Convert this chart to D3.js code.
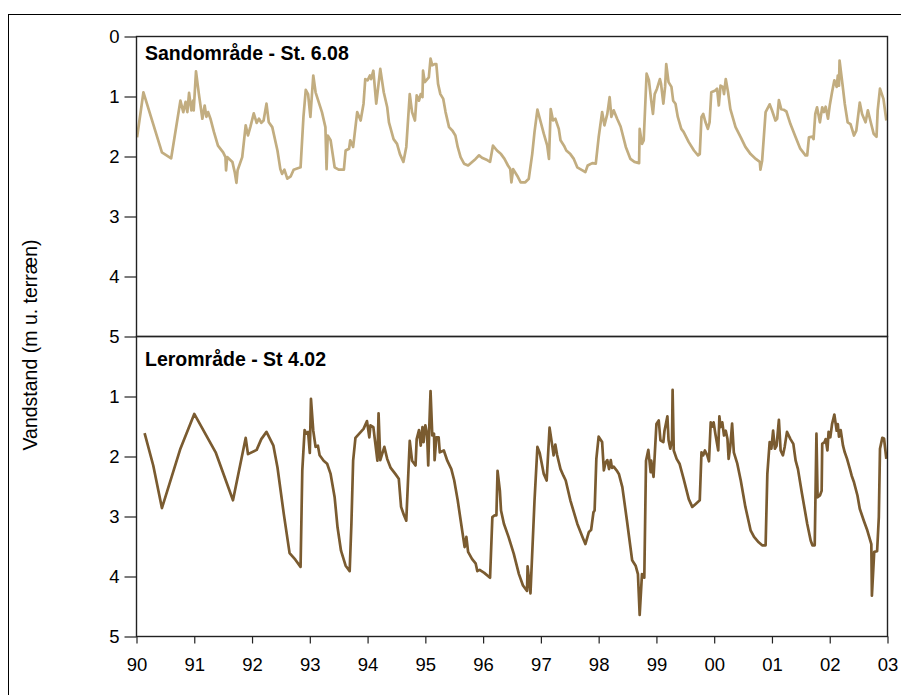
<!DOCTYPE html>
<html><head><meta charset="utf-8">
<script src="https://cdn.jsdelivr.net/npm/d3@7"></script>
<style>
html,body{margin:0;padding:0;background:#fff;}
svg{display:block;font-family:"Liberation Sans",Arial,sans-serif;}
</style></head>
<body>
<svg id="c" width="901" height="695"></svg>
<script>
const xTickLabels = ["90","91","92","93","94","95","96","97","98","99","00","01","02","03"];
const xTickYears = [1990,1991,1992,1993,1994,1995,1996,1997,1998,1999,2000,2001,2002,2003];
const topYTicks = [0,1,2,3,4,5];
const bottomYTicks = [1,2,3,4,5];
const titles = ["Sandområde - St. 6.08", "Lerområde - St 4.02"];
const yAxisTitle = "Vandstand (m u. terræn)";

// Sandområde - St. 6.08
const sandT = [1990.01,1990.12,1990.44,1990.60,1990.76,1990.81,1990.85,1990.88,1990.91,1990.95,1990.98,1990.99,1991.03,1991.08,1991.14,1991.18,1991.21,1991.24,1991.28,1991.34,1991.41,1991.50,1991.54,1991.55,1991.57,1991.66,1991.70,1991.73,1991.75,1991.83,1991.89,1991.93,1991.97,1992.03,1992.08,1992.12,1992.16,1992.20,1992.25,1992.29,1992.35,1992.44,1992.49,1992.52,1992.56,1992.61,1992.67,1992.72,1992.84,1992.89,1992.93,1992.97,1993.01,1993.06,1993.10,1993.21,1993.27,1993.29,1993.31,1993.36,1993.43,1993.50,1993.59,1993.62,1993.68,1993.70,1993.75,1993.79,1993.82,1993.88,1993.93,1993.96,1994.00,1994.04,1994.06,1994.10,1994.15,1994.19,1994.22,1994.28,1994.34,1994.37,1994.45,1994.51,1994.56,1994.62,1994.67,1994.73,1994.77,1994.82,1994.85,1994.89,1994.92,1994.95,1994.96,1994.99,1995.06,1995.09,1995.12,1995.16,1995.19,1995.22,1995.26,1995.31,1995.35,1995.41,1995.47,1995.52,1995.56,1995.61,1995.67,1995.74,1995.81,1995.87,1995.93,1995.98,1996.07,1996.12,1996.17,1996.24,1996.31,1996.37,1996.43,1996.47,1996.49,1996.52,1996.59,1996.65,1996.73,1996.79,1996.85,1996.89,1996.94,1996.99,1997.05,1997.11,1997.14,1997.17,1997.21,1997.25,1997.31,1997.34,1997.40,1997.44,1997.51,1997.57,1997.63,1997.72,1997.77,1997.81,1997.89,1997.95,1998.00,1998.06,1998.10,1998.15,1998.19,1998.22,1998.26,1998.32,1998.38,1998.47,1998.55,1998.62,1998.70,1998.71,1998.75,1998.78,1998.83,1998.87,1998.91,1998.94,1998.97,1999.01,1999.06,1999.08,1999.12,1999.15,1999.17,1999.21,1999.26,1999.29,1999.33,1999.37,1999.43,1999.47,1999.56,1999.65,1999.72,1999.75,1999.78,1999.81,1999.85,1999.89,1999.92,1999.95,2000.02,2000.05,2000.08,2000.11,2000.15,2000.17,2000.20,2000.24,2000.28,2000.37,2000.46,2000.54,2000.63,2000.72,2000.79,2000.80,2000.83,2000.89,2000.96,2001.00,2001.06,2001.09,2001.12,2001.16,2001.20,2001.25,2001.32,2001.41,2001.49,2001.58,2001.61,2001.64,2001.70,2001.72,2001.75,2001.78,2001.83,2001.87,2001.90,2001.93,2001.97,2002.00,2002.04,2002.08,2002.12,2002.14,2002.16,2002.17,2002.22,2002.26,2002.31,2002.36,2002.42,2002.46,2002.52,2002.56,2002.62,2002.66,2002.71,2002.76,2002.81,2002.83,2002.87,2002.93,2002.98];
const sandV = [1.68,0.93,1.93,2.03,1.07,1.26,1.09,1.26,0.94,1.23,1.07,1.23,0.58,0.96,1.37,1.15,1.34,1.26,1.37,1.59,1.82,1.93,2.01,2.23,2.01,2.09,2.26,2.44,2.23,2.01,1.48,1.65,1.51,1.28,1.44,1.37,1.44,1.40,1.12,1.43,1.51,1.90,2.21,2.29,2.22,2.37,2.33,2.22,2.18,1.34,0.89,0.96,1.34,0.65,0.93,1.26,1.51,2.21,1.65,1.73,2.18,2.22,2.22,1.90,1.87,1.73,1.84,1.51,1.26,1.40,1.12,0.71,0.73,0.65,0.71,0.57,1.12,0.79,0.54,0.93,1.18,1.43,1.71,1.79,1.96,2.09,1.84,0.96,1.26,1.40,0.98,1.07,0.96,1.01,0.57,0.76,0.68,0.37,0.48,0.46,0.46,0.79,0.96,1.04,1.26,1.51,1.57,1.65,1.84,2.01,2.12,2.15,2.09,2.04,1.98,2.02,2.06,2.09,1.82,1.90,1.96,2.04,2.15,2.21,2.43,2.21,2.32,2.43,2.43,2.37,1.96,1.59,1.22,1.40,1.62,1.82,2.04,1.21,1.40,1.37,1.54,1.73,1.82,1.90,1.96,2.04,2.18,2.23,2.26,2.15,2.11,2.12,1.68,1.26,1.48,1.29,1.01,1.34,1.23,1.37,1.50,1.84,2.04,2.09,2.11,1.54,1.79,1.73,0.62,0.73,1.07,1.29,0.96,0.87,0.71,0.79,1.12,0.84,0.46,0.76,0.84,1.07,1.12,1.34,1.54,1.59,1.76,1.90,1.98,1.96,1.34,1.29,1.43,1.54,1.43,0.93,0.90,0.87,1.15,0.82,0.84,0.96,0.71,0.93,1.21,1.51,1.68,1.84,1.96,2.04,2.09,2.22,2.07,1.26,1.13,1.23,1.40,1.37,1.06,1.21,1.22,1.25,1.46,1.68,1.87,1.98,1.98,1.68,1.67,1.71,1.29,1.18,1.43,1.18,1.26,1.17,1.37,1.15,0.93,0.73,0.84,0.65,0.82,0.40,0.79,1.12,1.43,1.46,1.65,1.57,1.10,1.29,1.43,1.23,1.43,1.62,1.67,1.23,0.87,1.04,1.40];

// Lerområde - St 4.02
const lerT = [1990.14,1990.29,1990.44,1990.76,1991.00,1991.37,1991.67,1991.89,1991.93,1992.08,1992.16,1992.25,1992.37,1992.44,1992.55,1992.65,1992.75,1992.84,1992.87,1992.91,1992.94,1992.97,1993.00,1993.02,1993.06,1993.10,1993.14,1993.17,1993.24,1993.30,1993.36,1993.43,1993.48,1993.54,1993.62,1993.69,1993.72,1993.75,1993.79,1993.93,1993.99,1994.03,1994.05,1994.10,1994.17,1994.19,1994.22,1994.29,1994.34,1994.40,1994.48,1994.54,1994.58,1994.63,1994.67,1994.70,1994.73,1994.77,1994.83,1994.85,1994.89,1994.92,1994.95,1994.97,1995.00,1995.03,1995.05,1995.07,1995.09,1995.12,1995.15,1995.16,1995.19,1995.23,1995.25,1995.32,1995.38,1995.45,1995.50,1995.56,1995.62,1995.68,1995.71,1995.74,1995.81,1995.87,1995.90,1995.94,1996.02,1996.12,1996.16,1996.20,1996.23,1996.25,1996.29,1996.31,1996.36,1996.44,1996.53,1996.62,1996.69,1996.76,1996.77,1996.82,1996.89,1996.94,1996.98,1997.05,1997.10,1997.15,1997.20,1997.22,1997.25,1997.28,1997.34,1997.39,1997.43,1997.51,1997.63,1997.72,1997.77,1997.83,1997.87,1997.91,1997.93,1997.96,1998.00,1998.06,1998.09,1998.12,1998.15,1998.18,1998.21,1998.23,1998.26,1998.31,1998.35,1998.41,1998.49,1998.58,1998.64,1998.68,1998.71,1998.75,1998.79,1998.82,1998.86,1998.90,1998.91,1998.95,1999.00,1999.04,1999.07,1999.12,1999.14,1999.19,1999.21,1999.24,1999.27,1999.28,1999.30,1999.35,1999.40,1999.47,1999.56,1999.62,1999.68,1999.75,1999.78,1999.81,1999.84,1999.88,1999.91,1999.94,1999.97,1999.99,2000.02,2000.07,2000.09,2000.11,2000.14,2000.17,2000.20,2000.23,2000.25,2000.28,2000.31,2000.34,2000.40,2000.46,2000.54,2000.63,2000.69,2000.77,2000.83,2000.89,2000.92,2000.96,2000.99,2001.02,2001.05,2001.08,2001.12,2001.15,2001.19,2001.22,2001.26,2001.32,2001.37,2001.41,2001.45,2001.52,2001.61,2001.67,2001.70,2001.74,2001.77,2001.79,2001.83,2001.86,2001.87,2001.91,2001.93,2001.96,2001.98,2002.01,2002.04,2002.08,2002.12,2002.14,2002.16,2002.19,2002.23,2002.26,2002.30,2002.35,2002.38,2002.42,2002.48,2002.52,2002.59,2002.65,2002.72,2002.73,2002.77,2002.82,2002.85,2002.87,2002.91,2002.94,2002.98];
const lerV = [1.61,2.15,2.86,1.87,1.29,1.93,2.73,1.69,1.96,1.89,1.71,1.59,1.82,2.18,2.96,3.61,3.72,3.84,2.23,1.56,1.62,1.59,1.94,1.04,1.57,1.84,1.82,1.98,2.07,2.12,2.29,2.68,3.18,3.57,3.82,3.91,3.12,2.07,1.69,1.54,1.41,1.68,1.48,1.51,2.07,1.28,2.06,1.84,2.04,2.19,2.29,2.37,2.84,2.98,3.07,2.40,1.74,2.07,2.15,1.71,1.56,1.82,1.51,1.76,1.48,1.62,2.15,1.46,0.91,1.65,1.62,2.06,1.68,1.68,1.93,1.90,2.07,2.21,2.40,2.73,3.12,3.51,3.34,3.59,3.71,3.78,3.91,3.89,3.94,4.02,3.01,2.98,2.98,2.24,2.57,2.90,3.12,3.34,3.62,3.96,4.15,4.24,3.83,4.28,2.73,1.84,1.94,2.29,2.40,1.52,1.84,1.98,1.80,1.97,2.21,2.32,2.40,2.73,3.12,3.34,3.46,3.26,3.22,2.93,2.90,2.04,1.67,1.76,2.23,2.10,2.06,2.21,2.06,2.19,2.17,2.23,2.29,2.51,3.07,3.73,3.82,3.96,4.64,3.96,4.02,2.07,1.89,2.26,2.07,2.34,1.46,1.40,1.73,1.76,1.57,1.33,1.73,1.87,1.72,0.89,1.90,2.04,2.12,2.37,2.71,2.84,2.79,2.73,1.93,1.98,1.90,1.98,2.08,1.43,1.50,1.43,1.62,1.90,1.33,1.51,1.43,1.65,1.57,1.71,2.04,1.82,1.45,1.93,2.12,2.40,2.84,3.23,3.34,3.43,3.48,3.48,2.29,1.76,1.87,1.57,1.87,1.82,1.39,1.90,1.98,1.84,1.59,1.71,1.79,2.07,2.21,2.62,3.12,3.40,3.48,3.48,1.62,2.68,2.65,2.57,1.79,1.76,1.71,1.90,1.59,1.68,1.46,1.30,1.57,1.46,1.67,1.56,1.82,1.93,2.04,2.21,2.32,2.43,2.65,2.87,3.07,3.23,3.46,4.32,3.59,3.58,3.01,1.87,1.69,1.70,2.04];

const svg = d3.select("#c");
const L = 136.5, R = 887.5, T = 36.5, M = 336.5, B = 636.5;

// outer frame
svg.append("rect").attr("x",8.5).attr("y",14.5).attr("width",910).attr("height",700)
  .attr("fill","none").attr("stroke","#000").attr("stroke-width",1);

const x = d3.scaleLinear().domain([1990,2003]).range([L,R]);
const yTop = d3.scaleLinear().domain([0,5]).range([T,M]);
const yBot = d3.scaleLinear().domain([0,5]).range([M,B]);

function series(T_, V_){ return T_.map((t,i)=>({t:t,v:V_[i]})); }

svg.append("clipPath").attr("id","cpTop").append("rect").attr("x",L).attr("y",T).attr("width",R-L).attr("height",M-T);
svg.append("clipPath").attr("id","cpBot").append("rect").attr("x",L).attr("y",M).attr("width",R-L).attr("height",B-M);

const lineTop = d3.line().x(d=>x(d.t)).y(d=>yTop(d.v));
const lineBot = d3.line().x(d=>x(d.t)).y(d=>yBot(d.v));

svg.append("path").datum(series(sandT,sandV)).attr("d",lineTop)
  .attr("fill","none").attr("stroke","#c2ad80").attr("stroke-width",2.7)
  .attr("stroke-linejoin","round").attr("clip-path","url(#cpTop)");
svg.append("path").datum(series(lerT,lerV)).attr("d",lineBot)
  .attr("fill","none").attr("stroke","#7a5b30").attr("stroke-width",2.7)
  .attr("stroke-linejoin","round").attr("clip-path","url(#cpBot)");

// panel frames
svg.append("rect").attr("x",L).attr("y",T).attr("width",R-L).attr("height",M-T)
  .attr("fill","none").attr("stroke","#222").attr("stroke-width",1.4);
svg.append("rect").attr("x",L).attr("y",M).attr("width",R-L).attr("height",B-M)
  .attr("fill","none").attr("stroke","#222").attr("stroke-width",1.4);

// axes
const axTop = svg.append("g").attr("transform",`translate(${L},0)`)
  .call(d3.axisLeft(yTop).tickValues(topYTicks).tickSize(12).tickPadding(5).tickFormat(d3.format("d")));
const axBot = svg.append("g").attr("transform",`translate(${L},0)`)
  .call(d3.axisLeft(yBot).tickValues(bottomYTicks).tickSize(12).tickPadding(5).tickFormat(d3.format("d")));
const axX = svg.append("g").attr("transform",`translate(0,${B})`)
  .call(d3.axisBottom(x).tickValues(xTickYears).tickSize(7).tickPadding(14).tickFormat((d,i)=>xTickLabels[i]));
[axTop,axBot,axX].forEach(g=>{
  g.select(".domain").remove();
  g.selectAll(".tick line").attr("stroke","#222").attr("stroke-width",1.2);
  g.selectAll(".tick text").attr("font-family","Liberation Sans, Arial, sans-serif")
    .attr("font-size",18.5).attr("fill","#000");
});

// titles
svg.append("text").attr("x",145).attr("y",60).text(titles[0])
  .attr("font-size",19.5).attr("font-weight","bold").attr("fill","#000");
svg.append("text").attr("x",145).attr("y",366).text(titles[1])
  .attr("font-size",19.5).attr("font-weight","bold").attr("fill","#000");

// y axis title
svg.append("text").attr("transform","translate(37,345) rotate(-90)")
  .attr("text-anchor","middle").attr("font-size",19.5).attr("fill","#000").text(yAxisTitle);
</script>
</body></html>
